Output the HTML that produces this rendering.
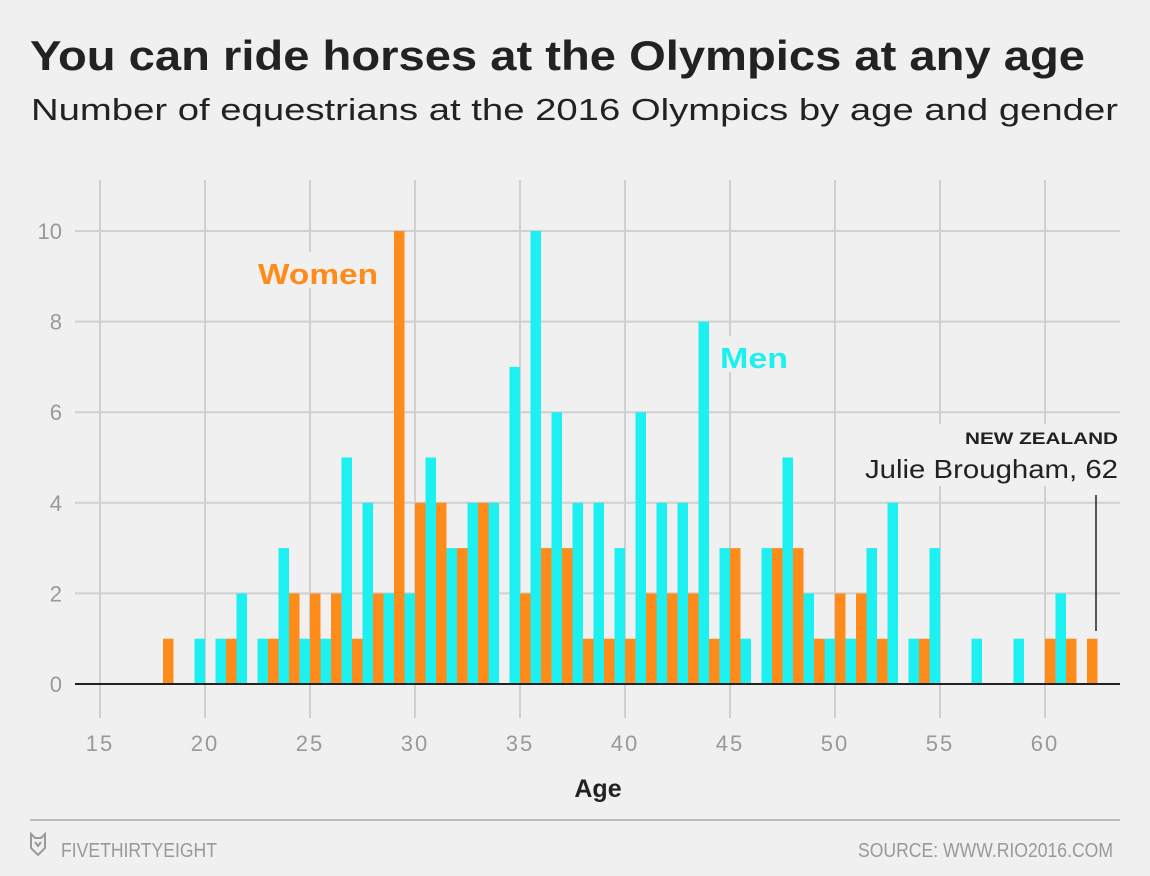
<!DOCTYPE html>
<html><head><meta charset="utf-8"><style>
html,body{margin:0;padding:0;background:#f0f0f0;width:1150px;height:876px;overflow:hidden;font-family:"Liberation Sans",sans-serif}
</style></head><body>
<svg width="1150" height="876" style="position:absolute;left:0;top:0">
<text x="30" y="70" font-size="42" font-weight="bold" fill="#222" textLength="1055" lengthAdjust="spacingAndGlyphs">You can ride horses at the Olympics at any age</text>
<text x="31" y="120" font-size="31" fill="#222" textLength="1087" lengthAdjust="spacingAndGlyphs">Number of equestrians at the 2016 Olympics by age and gender</text>
<g id="grid"></g>
<g id="bars"></g>
<g id="axes"></g>
<rect x="255" y="252" width="128" height="36" fill="#f0f0f0"/>
<text x="258" y="284" font-size="29" font-weight="bold" fill="#ff8c1a" textLength="120" lengthAdjust="spacingAndGlyphs">Women</text>
<rect x="718" y="336" width="76" height="36" fill="#f0f0f0"/>
<text x="720" y="368" font-size="29" font-weight="bold" fill="#1cf0f0" textLength="68" lengthAdjust="spacingAndGlyphs">Men</text>
<rect x="860" y="424" width="262" height="62" fill="#f0f0f0"/>
<text x="1118" y="444" font-size="17" font-weight="bold" fill="#222" text-anchor="end" textLength="153" lengthAdjust="spacingAndGlyphs">NEW ZEALAND</text>
<text x="1118" y="478" font-size="26" fill="#222" text-anchor="end" textLength="253" lengthAdjust="spacingAndGlyphs">Julie Brougham, 62</text>
<line x1="1096" y1="495" x2="1096" y2="631" stroke="#222" stroke-width="1.5"/>
<text x="598" y="797" font-size="25" font-weight="bold" fill="#222" text-anchor="middle">Age</text>
<line x1="30" y1="820" x2="1120" y2="820" stroke="#aaa" stroke-width="1.5"/>
<path d="M31 834 L35 838 L41 838 L45 834 L45 848 L38 855 L31 848 Z M35 842 L38 846 L41 842" fill="none" stroke="#999" stroke-width="2"/>
<text x="61" y="857" font-size="20" fill="#999" textLength="156" lengthAdjust="spacingAndGlyphs">FIVETHIRTYEIGHT</text>
<text x="1113" y="857" font-size="20" fill="#999" text-anchor="end" textLength="255" lengthAdjust="spacingAndGlyphs">SOURCE: WWW.RIO2016.COM</text>
</svg>
<script>
const ages = [18,19,20,21,22,23,24,25,26,27,28,29,30,31,32,33,34,35,36,37,38,39,40,41,42,43,44,45,46,47,48,49,50,51,52,53,54,55,56,57,58,59,60,61,62];
const men   = [0,0,1,1,2,1,3,1,1,5,4,2,2,5,3,4,4,7,10,6,4,4,3,6,4,4,8,3,1,3,5,2,1,1,3,4,1,3,0,1,0,1,0,2,0];
const women = [1,0,0,1,0,1,2,2,2,1,2,10,4,4,3,4,0,2,3,3,1,1,1,2,2,2,1,3,0,3,3,1,2,2,1,0,1,0,0,0,0,0,1,1,1];
const xTicks = [15,20,25,30,35,40,45,50,55,60];
const yTicks = [0,2,4,6,8,10];
const NS="http://www.w3.org/2000/svg";
const xs = a => 100 + (a-15)*21;
const ys = v => 684 - v*45.3;
const bw = 10.5;
function mk(tag, attrs, parent){const e=document.createElementNS(NS,tag);for(const k in attrs)e.setAttribute(k,attrs[k]);parent.appendChild(e);return e;}
const grid=document.getElementById('grid'), bars=document.getElementById('bars'), axes=document.getElementById('axes');
yTicks.forEach(t=>{
  if(t>0){const l=mk('line',{x1:75,x2:1120,y1:ys(t),y2:ys(t),stroke:'#d0d0d0','stroke-width':2},grid);
  
  }
  const tx=mk('text',{x:62,y:ys(t)+8,'font-size':22,fill:'#999','text-anchor':'end'},axes);
  tx.textContent=t;
  
  
});
xTicks.forEach(t=>{
  const l=mk('line',{x1:xs(t),x2:xs(t),y1:180,y2:718,stroke:'#d0d0d0','stroke-width':2},grid);
  
  
  const tx=mk('text',{x:xs(t),y:751,'font-size':22,fill:'#999','text-anchor':'middle','letter-spacing':2},axes);
  tx.textContent=t;
  
  
});
ages.forEach((a,i)=>{
  if(men[i]>0){const r=mk('rect',{x:xs(a)-bw,y:ys(men[i]),width:bw,height:684-ys(men[i]),fill:'#1cf0f0'},bars);
    
    }
  if(women[i]>0){const r=mk('rect',{x:xs(a),y:ys(women[i]),width:bw,height:684-ys(women[i]),fill:'#ff8c1a'},bars);
    
    }
});
const base=mk('line',{x1:75,x2:1120,y1:684,y2:684,stroke:'#222','stroke-width':2},axes);


</script>
</body></html>
